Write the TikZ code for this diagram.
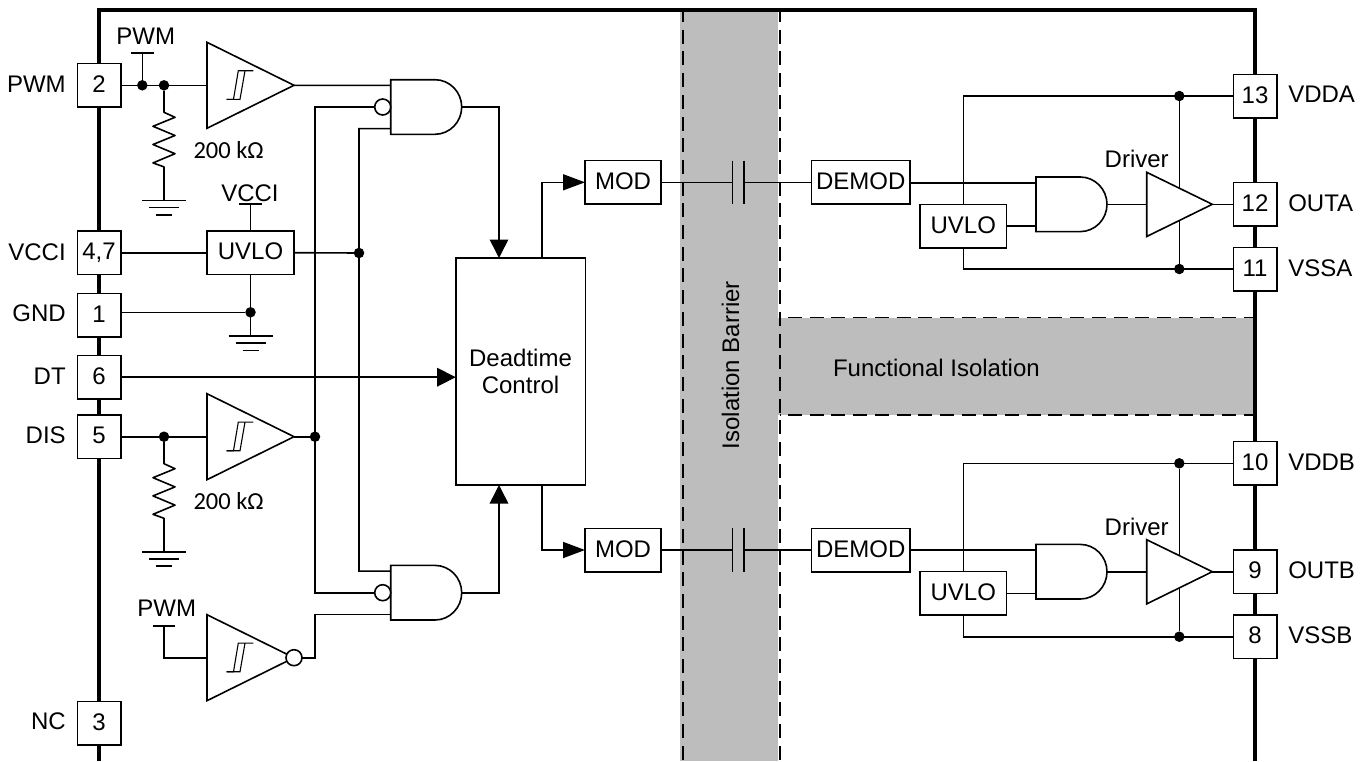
\documentclass[tikz,border=0pt]{standalone}
\usepackage{fontspec}
\setmainfont{Liberation Sans}
\newfontfamily\ohmfont{Carlito}
\usetikzlibrary{arrows.meta}
\definecolor{band}{HTML}{BDBDBD}
\tikzset{
  wire/.style={line width=1.6pt,line cap=butt,line join=miter},
  thin wire/.style={line width=1.1pt},
  arr/.style={wire,-{Triangle[length=18.5pt,width=18.5pt]}},
  marr/.style={wire,-{Triangle[length=22pt,width=16pt]}},
  border/.style={line width=3.6pt,line join=miter},
  dashb/.style={line width=1.6pt,dash pattern=on 14pt off 7.7pt},
  lab/.style={font=\fontsize{24}{27.7}\selectfont,inner sep=0pt,outer sep=0pt},
  pinbox/.style={lab,draw,wire,fill=white,minimum width=43.4pt,minimum height=43.4pt,text height=16pt,text depth=1.5pt},
  blockbox/.style={lab,draw,wire,fill=white,align=center,text height=16pt,text depth=1.5pt},
  dotn/.style={circle,fill=black,draw=none,minimum size=10.5pt,inner sep=0pt,outer sep=0pt},
  bubble/.style={circle,draw,wire,fill=white,minimum size=16pt,inner sep=0pt,outer sep=0pt},
}
\newcommand\andgate[3]{%
  \begin{scope}[shift={(#2,#3)}]
    \draw[wire,fill=white] (0,-27.3) -- (44.3,-27.3) .. controls (59,-27.3) and (71,-15) .. (71,0)
      .. controls (71,15) and (59,27.3) .. (44.3,27.3) -- (0,27.3) -- cycle;
    \coordinate (#1-a) at (0,-21.6);
    \coordinate (#1-b) at (0,0);
    \coordinate (#1-c) at (0,21.6);
    \coordinate (#1-out) at (71,0);
  \end{scope}}
\newcommand\schmitt[2]{%
  \begin{scope}[shift={(207,#2)}]
    \draw[wire,fill=white] (0,-43) -- (87,0) -- (0,43) -- cycle;
    \draw[thin wire] (46.3,-14.6) -- (31.3,-14.6) -- (26.5,14) -- (19.7,14);
    \draw[thin wire] (38,-14.6) -- (33,14) -- (19.7,14);
    \coordinate (#1-in) at (0,0);
    \coordinate (#1-out) at (87,0);
  \end{scope}}
\newcommand\gndsym[1]{%
  \draw[wire] (#1) ++(-22,0) -- ++(44,0);
  \draw[wire] (#1) ++(-15,7) -- ++(30,0);
  \draw[wire] (#1) ++(-8,14.5) -- ++(16,0);}
\newcommand\railbar[1]{\draw[wire] (#1) ++(-11.2,0) -- ++(22.4,0);}
\newcommand\resistor[2]{%
  \draw[wire,line join=round] (#1) -- ++(0,27) -- ++(11,5) -- ++(-22,9) -- ++(22,9.2) -- ++(-22,9) -- ++(22,9.2) -- ++(-22,9.2) -- ++(11,4) -- (#2);}
\begin{document}
\begin{tikzpicture}[x=1pt,y=-1pt]
\useasboundingbox (0,0) rectangle (1368,761);
\fill[white] (0,0) rectangle (1368,761);
\fill[band] (680,10) rectangle (778.3,761);
\fill[band] (778,318) rectangle (1253,415);
\draw[dashb,dash phase=2pt] (682.7,10) -- (682.7,761);
\draw[dashb,dash phase=2pt] (780,10) -- (780,761);
\draw[dashb,dash phase=13.7pt] (780,317.5) -- (1253,317.5);
\draw[dashb,dash phase=13.7pt] (780,415) -- (1253,415);
\draw[border] (99,761) -- (99,10) -- (1255,10) -- (1255,761);
\node[pinbox] (p2) at (99,85.3) {2};
\node[pinbox] (p47) at (99,252.7) {4,7};
\node[pinbox] (p1) at (99,315) {1};
\node[pinbox] (p6) at (99,377.2) {6};
\node[pinbox] (p5) at (99,436.7) {5};
\node[pinbox] (p3) at (99,723) {3};
\node[pinbox] (p13) at (1255,96) {13};
\node[pinbox] (p12) at (1255,204.3) {12};
\node[pinbox] (p11) at (1255,269) {11};
\node[pinbox] (p10) at (1255,463.3) {10};
\node[pinbox] (p9) at (1255,571.7) {9};
\node[pinbox] (p8) at (1255,636.7) {8};
\node[lab,anchor=base east] (lpwm) at (65.7,92.7) {PWM};
\node[lab,anchor=base east] (lvcci) at (65.7,260) {VCCI};
\node[lab,anchor=base east] (lgnd) at (65.7,321.7) {GND};
\node[lab,anchor=base east] (ldt) at (65.7,384.5) {DT};
\node[lab,anchor=base east] (ldis) at (65.7,443.5) {DIS};
\node[lab,anchor=base east] (lnc) at (65.7,729.5) {NC};
\node[lab,anchor=base west] (lvdda) at (1288.3,102.5) {VDDA};
\node[lab,anchor=base west] (louta) at (1288.3,211.7) {OUTA};
\node[lab,anchor=base west] (lvssa) at (1288.3,276) {VSSA};
\node[lab,anchor=base west] (lvddb) at (1288.3,470.7) {VDDB};
\node[lab,anchor=base west] (loutb) at (1288.3,578.5) {OUTB};
\node[lab,anchor=base west] (lvssb) at (1288.3,643.5) {VSSB};
\node[dotn] (d1) at (142.3,85.3) {};
\node[dotn] (d2) at (164,85.3) {};
\node[dotn] (d3) at (359,253) {};
\node[dotn] (d4) at (250.5,312.3) {};
\node[dotn] (d5) at (164,436.7) {};
\node[dotn] (d6) at (315,436.7) {};
\coordinate (r1) at (142.3,53);
\coordinate (r2) at (250.5,204);
\coordinate (r3) at (164,625.7);
\coordinate (g1) at (164,200.5);
\coordinate (g2) at (250.5,336);
\coordinate (g3) at (164,551.7);
\schmitt{s1}{85.3}
\schmitt{s2}{436.7}
\schmitt{s3}{657.7}
\andgate{a1}{390.7}{107}
\andgate{a2}{390.7}{592.7}
\andgate{a3}{1036}{204.3}
\andgate{a4}{1036}{571.7}
\node[bubble] (b1) at (382.7,107) {};
\node[bubble] (b2) at (382.7,592.7) {};
\node[bubble] (b3) at (294,657.7) {};
\node[blockbox,minimum width=87pt,minimum height=43.4pt] (u1) at (250.5,252.7) {UVLO};
\node[blockbox,minimum width=86.7pt,minimum height=43.4pt] (u2) at (963.3,226) {UVLO};
\node[blockbox,minimum width=86.7pt,minimum height=43.4pt] (u3) at (963.3,593.3) {UVLO};
\node[lab,draw,wire,fill=white,align=center,minimum width=129.6pt,minimum height=227pt] (dead) at (520.5,371.5) {Deadtime\\Control};
\node[blockbox,minimum width=76pt,minimum height=43.4pt] (m1) at (623,182.3) {MOD};
\node[blockbox,minimum width=76pt,minimum height=43.4pt] (m2) at (623,550) {MOD};
\node[blockbox,minimum width=98.3pt,minimum height=43.4pt] (dm1) at (860.8,182.3) {DEMOD};
\node[blockbox,minimum width=98.3pt,minimum height=43.4pt] (dm2) at (860.8,550) {DEMOD};
\draw[wire] (p2.east) -- (s1-in);
\draw[wire] (d1) -- (r1); \railbar{r1}
\resistor{d2}{g1} \gndsym{g1}
\draw[wire] (s1-out) -- (a1-a);
\draw[wire] (p47.east) -- (u1.west);
\draw[wire] (u1.east) -- (d3);
\draw[wire] (u1.north) -- (r2); \railbar{r2}
\draw[wire] (u1.south) -- (g2); \gndsym{g2}
\draw[wire] (p1.east |- d4) -- (d4);
\draw[wire] (p5.east) -- (s2-in);
\resistor{d5}{g3} \gndsym{g3}
\draw[wire] (s2-out) -- (d6);
\draw[wire] (b1.west) -- (315,107) -- (315,592.7) -- (b2.west);
\draw[wire] (a1-c) -- (359,128.6) -- (359,571.1) -- (a2-a);
\draw[wire] (r3) -- (r3 |- s3-in) -- (s3-in); \railbar{r3}
\draw[wire] (b3.east) -- (315,657.7) -- (315,614.3) -- (a2-c);
\draw[arr] (p6.east) -- (dead.west |- p6);
\coordinate (dtop) at (499,258);
\coordinate (dbot) at (499,485);
\draw[arr] (a1-out) -| (dtop);
\draw[arr] (a2-out) -| (dbot);
\coordinate (q1) at (541.7,258);
\coordinate (q2) at (541.7,485);
\draw[marr] (q1) |- (m1.west);
\draw[marr] (q2) |- (m2.west);
\coordinate (c1a) at (732.3,182.3);
\coordinate (c1b) at (744,182.3);
\coordinate (c2a) at (732.3,550);
\coordinate (c2b) at (744,550);
\draw[wire] (m1.east) -- (c1a) (c1b) -- (dm1.west);
\draw[wire] (m2.east) -- (c2a) (c2b) -- (dm2.west);
\draw[wire] (c1a) ++(0,-21.7) -- ++(0,43.4);
\draw[wire] (c1b) ++(0,-21.7) -- ++(0,43.4);
\draw[wire] (c2a) ++(0,-21.7) -- ++(0,43.4);
\draw[wire] (c2b) ++(0,-21.7) -- ++(0,43.4);
\node[dotn] (e1) at (1179.3,96) {};
\node[dotn] (e2) at (1179.3,269) {};
\node[dotn] (e3) at (1179.3,463.3) {};
\node[dotn] (e4) at (1179.3,636.7) {};
\draw[wire] (p13.west) -| (u2.north);
\draw[wire] (p11.west) -| (u2.south);
\draw[wire] (e1) -- (e2);
\draw[wire] (dm1.east |- a3-a) -- (a3-a);
\draw[wire] (u2.east |- a3-c) -- (a3-c);
\draw[wire] (p10.west) -| (u3.north);
\draw[wire] (p8.west) -| (u3.south);
\draw[wire] (e3) -- (e4);
\draw[wire] (dm2.east |- a4-a) -- (a4-a);
\draw[wire] (u3.east |- a4-c) -- (a4-c);
\draw[wire,fill=white] (1146.7,172.3) -- (1212.3,204.3) -- (1146.7,236.5) -- cycle;
\draw[wire,fill=white] (1146.7,539.7) -- (1212.3,571.7) -- (1146.7,603.9) -- cycle;
\coordinate (t1) at (1146.7,204.3);
\coordinate (t2) at (1212.3,204.3);
\coordinate (t3) at (1146.7,571.7);
\coordinate (t4) at (1212.3,571.7);
\draw[wire] (a3-out) -- (t1);
\draw[wire] (t2) -- (p12.west);
\draw[wire] (a4-out) -- (t3);
\draw[wire] (t4) -- (p9.west);
\node[lab,anchor=base] (tp1) at (145.7,44) {PWM};
\node[lab,anchor=base] (tv) at (250,201) {VCCI};
\node[lab,anchor=base] (tp2) at (166.7,616.7) {PWM};
\node[lab,anchor=base west,font=\ohmfont\fontsize{24.5}{28}\selectfont] (o1) at (193.5,158) {200 kΩ};
\node[lab,anchor=base west,font=\ohmfont\fontsize{24.5}{28}\selectfont] (o2) at (193.5,509) {200 kΩ};
\node[lab,anchor=base] (dr1) at (1136.7,167.3) {Driver};
\node[lab,anchor=base] (dr2) at (1136.7,535.7) {Driver};
\node[lab,anchor=base west] (fi) at (833,376) {Functional Isolation};
\node[lab,rotate=90,anchor=base] (ib) at (739,365) {Isolation Barrier};
\end{tikzpicture}
\end{document}
